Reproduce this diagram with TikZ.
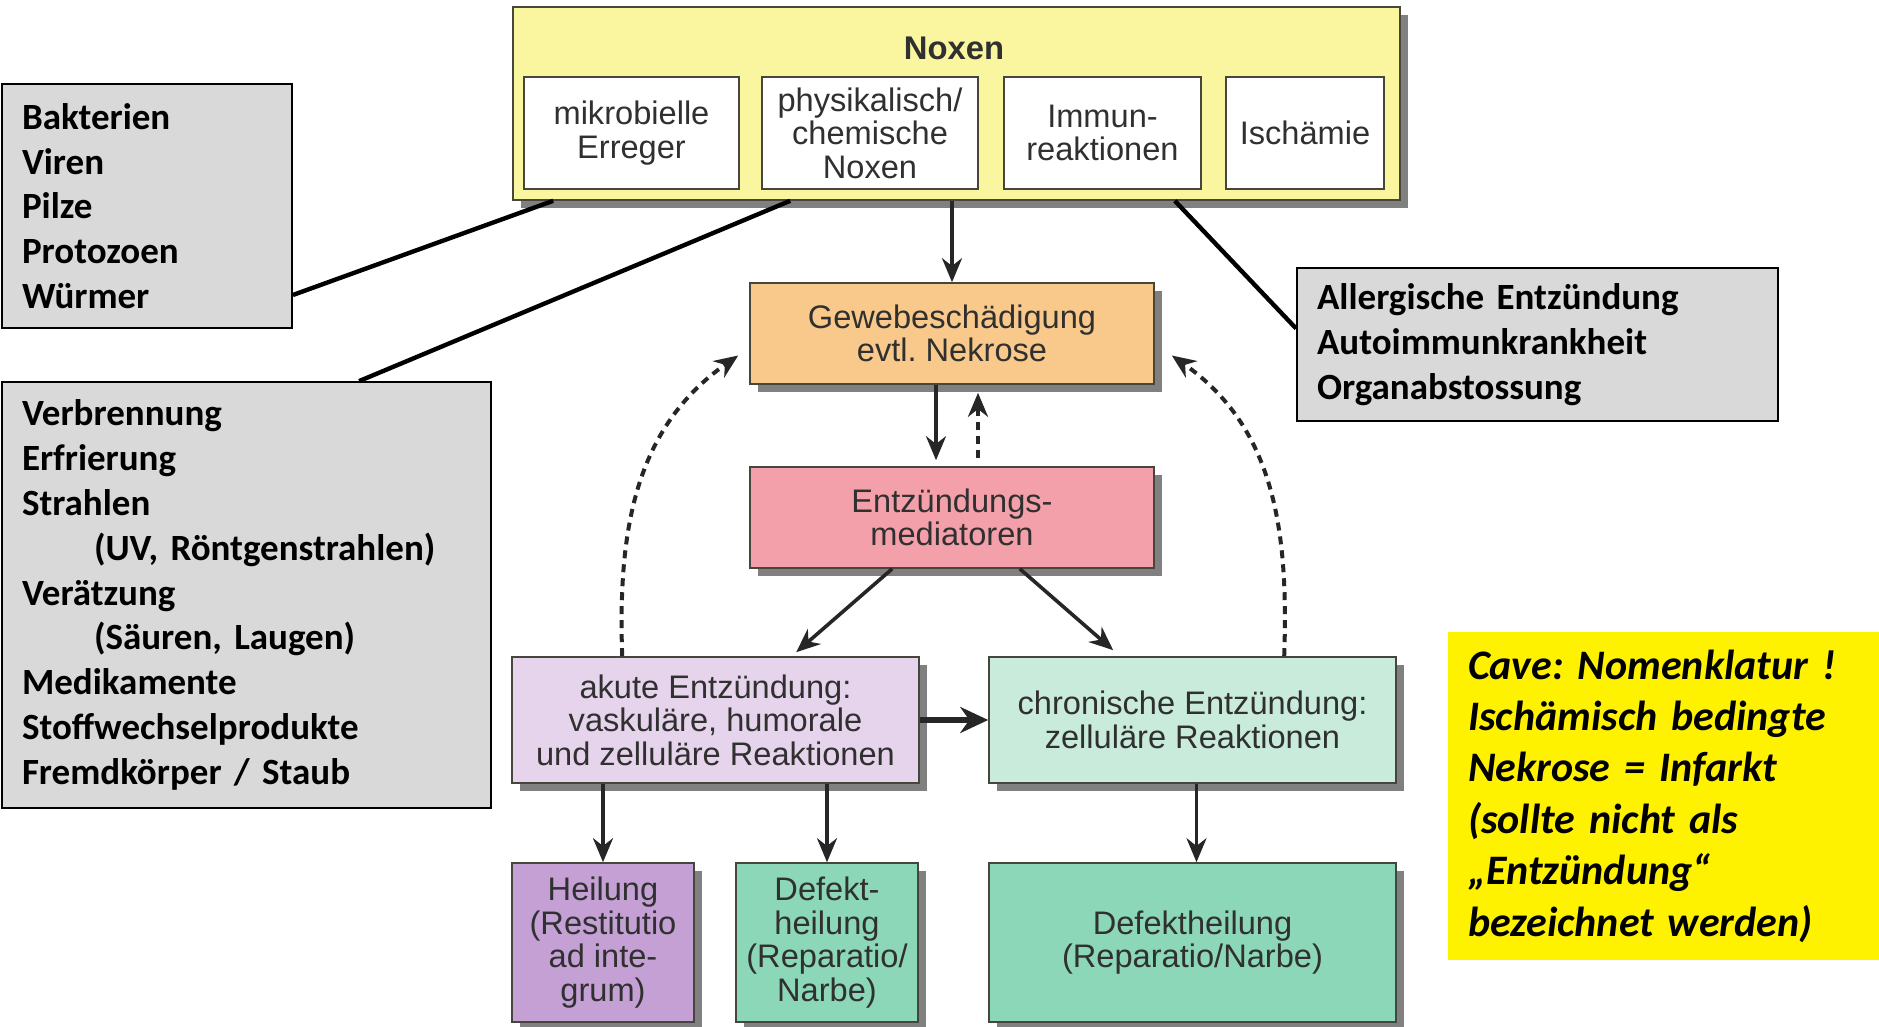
\documentclass[tikz,border=0pt]{standalone}
\usepackage{fontspec}
\setmainfont{Liberation Sans}
\newfontfamily\calibri{Carlito}
\usetikzlibrary{arrows.meta,shadows}
\definecolor{noxgelb}{HTML}{FAF6A0}
\definecolor{orange}{HTML}{F9C98B}
\definecolor{rosa}{HTML}{F4A0AA}
\definecolor{lila}{HTML}{E5D4EB}
\definecolor{mint}{HTML}{C9EBDC}
\definecolor{violett}{HTML}{C4A0D5}
\definecolor{gruen}{HTML}{8BD7B8}
\definecolor{grau}{HTML}{D9D9D9}
\definecolor{boxrand}{HTML}{46463C}
\definecolor{schrift}{HTML}{303030}
\frenchspacing
\begin{document}
\begin{tikzpicture}[x=0.5pt, y=-0.5pt]
			\tikzset{b/.style={draw=boxrand, line width=0.8pt, text=schrift, align=center, inner sep=2pt,
				font=\fontsize{16.3}{16.8}\selectfont,
				drop shadow={shadow xshift=4pt, shadow yshift=-4pt, fill=black!50, opacity=1}},
			w/.style={draw=boxrand, line width=0.8pt, fill=white, text=schrift, align=center, inner sep=2pt,
				minimum height=56pt, font=\fontsize{16.3}{16.8}\selectfont},
			g/.style={draw=black, line width=0.9pt, fill=grau, align=left, inner xsep=10pt,
				font=\calibri\bfseries\fontsize{18.5}{22.4}\selectfont},
			f/.style={-{Stealth[length=12pt, width=10pt]}, line width=1.8pt, draw=black!85},
			d/.style={f, line width=2pt, dash pattern=on 4pt off 3pt},
			l/.style={line width=2.2pt}};
			\useasboundingbox (0,0) rectangle (1879,1027);

			\node[b, fill=noxgelb, minimum width=443.5pt, minimum height=96.5pt] (noxen) at (956.5,103.5) {};
			\node[text=schrift, font=\bfseries\fontsize{16.4}{18}\selectfont] (titel) at (954,48) {Noxen};
			\node[w, minimum width=107.5pt] (mikro) at (631.5,133) {mikrobielle\\Erreger};
			\node[w, minimum width=108pt] (phys) at (870,133) {physikalisch/\\chemische\\Noxen};
			\node[w, minimum width=98.5pt] (immun) at (1102.5,133) {Immun-\\reaktionen};
			\node[w, minimum width=79pt] (isch) at (1305,133) {Ischämie};

			\node[b, fill=orange, minimum width=202pt, minimum height=50.5pt] (gewebe) at (952,333.5) {Gewebeschädigung\\evtl. Nekrose};
			\node[b, fill=rosa, minimum width=202pt, minimum height=50.5pt] (mediat) at (952,517.5) {Entzündungs-\\mediatoren};
			\node[b, fill=lila, minimum width=203.5pt, minimum height=63pt] (akut) at (715.5,720) {akute Entzündung:\\vaskuläre, humorale\\und zelluläre Reaktionen};
			\node[b, fill=mint, minimum width=203.5pt, minimum height=63pt] (chron) at (1192.5,720) {chronische Entzündung:\\zelluläre Reaktionen};
			\node[b, fill=violett, minimum width=91pt, minimum height=79.5pt] (heil) at (603,942.5) {Heilung\\(Restitutio\\ad inte-\\grum)};
			\node[b, fill=gruen, minimum width=91pt, minimum height=79.5pt] (defekta) at (827,942.5) {Defekt-\\heilung\\(Reparatio/\\Narbe)};
			\node[b, fill=gruen, minimum width=203.5pt, minimum height=79.5pt] (defektb) at (1192.5,942.5) {Defektheilung\\(Reparatio/Narbe)};

			\node[g, text width=125pt, minimum height=122pt] (bakt) at (147,206) {Bakterien\\Viren\\Pilze\\Protozoen\\Würmer};
			\node[g, text width=224.5pt, minimum height=213pt] (verbr) at (246.5,595) {Verbrennung\\Erfrierung\\Strahlen\\\hspace*{36pt}(UV, Röntgenstrahlen)\\Verätzung\\\hspace*{36pt}(Säuren, Laugen)\\Medikamente\\Stoffwechselprodukte\\Fremdkörper / Staub};
			\node[g, text width=220.5pt, minimum height=76.5pt] (allerg) at (1537.5,344.5) {Allergische Entzündung\\Autoimmunkrankheit\\Organabstossung};
			\node[g, draw=none, fill=yellow, text width=195.5pt, minimum height=164pt,
				font=\calibri\bfseries\itshape\fontsize{21}{25.7}\selectfont] (cave) at (1663.5,796) {Cave: Nomenklatur !\\Ischämisch bedingte\\Nekrose = Infarkt\\(sollte nicht als\\„Entzündung“\\bezeichnet werden)};

			\draw[f] (gewebe.north |- noxen.south) to (gewebe.north);
			\draw[f] ([xshift=-8pt]gewebe.south) to ([xshift=-8pt, yshift=3pt]mediat.north);
			\draw[d] ([xshift=13pt, yshift=4pt]mediat.north) to ([xshift=13pt, yshift=-4pt]gewebe.south);
			\draw[f] ([xshift=71.5pt]mediat.south west) to ([xshift=142.5pt, yshift=2pt]akut.north west);
			\draw[f] ([xshift=-67.5pt]mediat.south east) to ([xshift=62.5pt, yshift=3pt]chron.north west);
			\draw[f, line width=3pt, -{Stealth[length=14pt, width=13pt]}] (akut) to (chron);
			\draw[d] ([xshift=55.5pt]akut.north west) to[out=92, in=215] ([xshift=-5.5pt, yshift=-11pt]gewebe.west);
			\draw[d] ([xshift=148pt]chron.north west) to[out=88, in=-35] ([xshift=8.5pt, yshift=-11pt]gewebe.east);
			\draw[f] (heil.north |- akut.south) to (heil.north);
			\draw[f] (defekta.north |- akut.south) to (defekta.north);
			\draw[f] ([xshift=2pt]defektb.north |- chron.south) to ([xshift=2pt]defektb.north);

			\draw[l] ([yshift=-44.5pt]bakt.east) to ([xshift=20.5pt]noxen.south west);
			\draw[l] ([xshift=179pt]verbr.north west) to ([xshift=139pt]noxen.south west);
			\draw[l] ([yshift=8pt]allerg.west) to ([xshift=-113pt]noxen.south east);
		\end{tikzpicture}
\end{document}
